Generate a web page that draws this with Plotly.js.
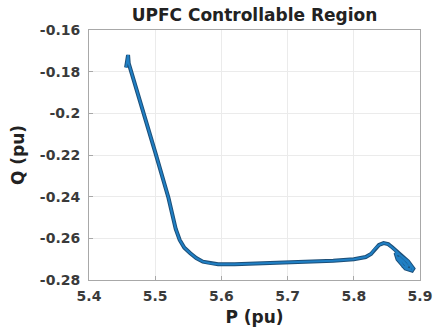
<!DOCTYPE html>
<html>
<head>
<meta charset="utf-8">
<script src="https://cdn.plot.ly/plotly-3.0.1.min.js"></script>
<style>html,body{margin:0;padding:0;background:#fff;}#chart{width:433px;height:329px;}</style>
</head>
<body>
<div id="chart"></div>
<script>
// Trajectory of the UPFC operating point (P, Q in pu)
const P = [5.456, 5.458, 5.459, 5.460, 5.477, 5.500, 5.520, 5.527, 5.531, 5.537, 5.544, 5.553, 5.562, 5.572, 5.583, 5.595, 5.620, 5.673, 5.720, 5.769, 5.800, 5.818, 5.826, 5.832, 5.838, 5.845, 5.852, 5.858, 5.862,
           5.870, 5.882, 5.890, 5.888, 5.878, 5.866, 5.863, 5.870, 5.880, 5.887, 5.884, 5.875, 5.868, 5.868, 5.875, 5.882, 5.880, 5.874, 5.871, 5.876, 5.879];
const Q = [-0.178, -0.175, -0.172, -0.176, -0.1936, -0.2186, -0.2405, -0.2495, -0.2555, -0.2608, -0.2645, -0.2672, -0.2695, -0.2712, -0.2720, -0.2724, -0.2725, -0.2719, -0.2714, -0.2708, -0.2700, -0.2690, -0.2675, -0.2650, -0.2632, -0.2623, -0.2628, -0.2643, -0.2655,
           -0.268, -0.271, -0.2745, -0.2755, -0.2745, -0.270, -0.267, -0.268, -0.271, -0.274, -0.275, -0.2735, -0.270, -0.269, -0.271, -0.2735, -0.2735, -0.2715, -0.270, -0.2715, -0.273];
const xTicks = [5.4, 5.5, 5.6, 5.7, 5.8, 5.9];
const xTickText = ['5.4', '5.5', '5.6', '5.7', '5.8', '5.9'];
const yTicks = [-0.28, -0.26, -0.24, -0.22, -0.2, -0.18, -0.16];
const yTickText = ['-0.28', '-0.26', '-0.24', '-0.22', '-0.2', '-0.18', '-0.16'];

const font = 'DejaVu Sans, Arial, sans-serif';
const traces = [
  {x: P, y: Q, type: 'scatter', mode: 'lines', line: {color: '#1d4f78', width: 4}, hoverinfo: 'skip'},
  {x: P, y: Q, type: 'scatter', mode: 'lines', line: {color: '#1f7fc4', width: 2}, hoverinfo: 'skip'}
];
const axisCommon = {
  showgrid: true, gridcolor: '#ebebeb', gridwidth: 1,
  zeroline: false, showline: true, mirror: true, linecolor: '#a8a8a8', linewidth: 1,
  ticks: 'inside', ticklen: 4, tickcolor: '#a8a8a8',
  tickfont: {family: font, size: 14, color: '#3a3a3a', weight: 'bold'},
  tickmode: 'array'
};
const layout = {
  width: 433, height: 329,
  margin: {l: 89, r: 13, t: 30, b: 49, pad: 0},
  paper_bgcolor: '#ffffff', plot_bgcolor: '#ffffff',
  showlegend: false,
  title: {text: '<b>UPFC Controllable Region</b>', font: {family: font, size: 17, color: '#222222'}, x: 0.5, xref: 'paper', y: 0.972, yanchor: 'top'},
  xaxis: Object.assign({}, axisCommon, {
    range: [5.4, 5.9], tickvals: xTicks, ticktext: xTickText, ticklabelstandoff: 3,
    title: {text: '<b>P (pu)</b>', font: {family: font, size: 17, color: '#222222'}, standoff: 8}
  }),
  yaxis: Object.assign({}, axisCommon, {
    range: [-0.28, -0.16], tickvals: yTicks, ticktext: yTickText, ticklabelstandoff: 5,
    title: {text: '<b>Q (pu)</b>', font: {family: font, size: 17, color: '#222222'}, standoff: 10}
  })
};
Plotly.newPlot('chart', traces, layout, {staticPlot: true, displayModeBar: false});
</script>
</body>
</html>
